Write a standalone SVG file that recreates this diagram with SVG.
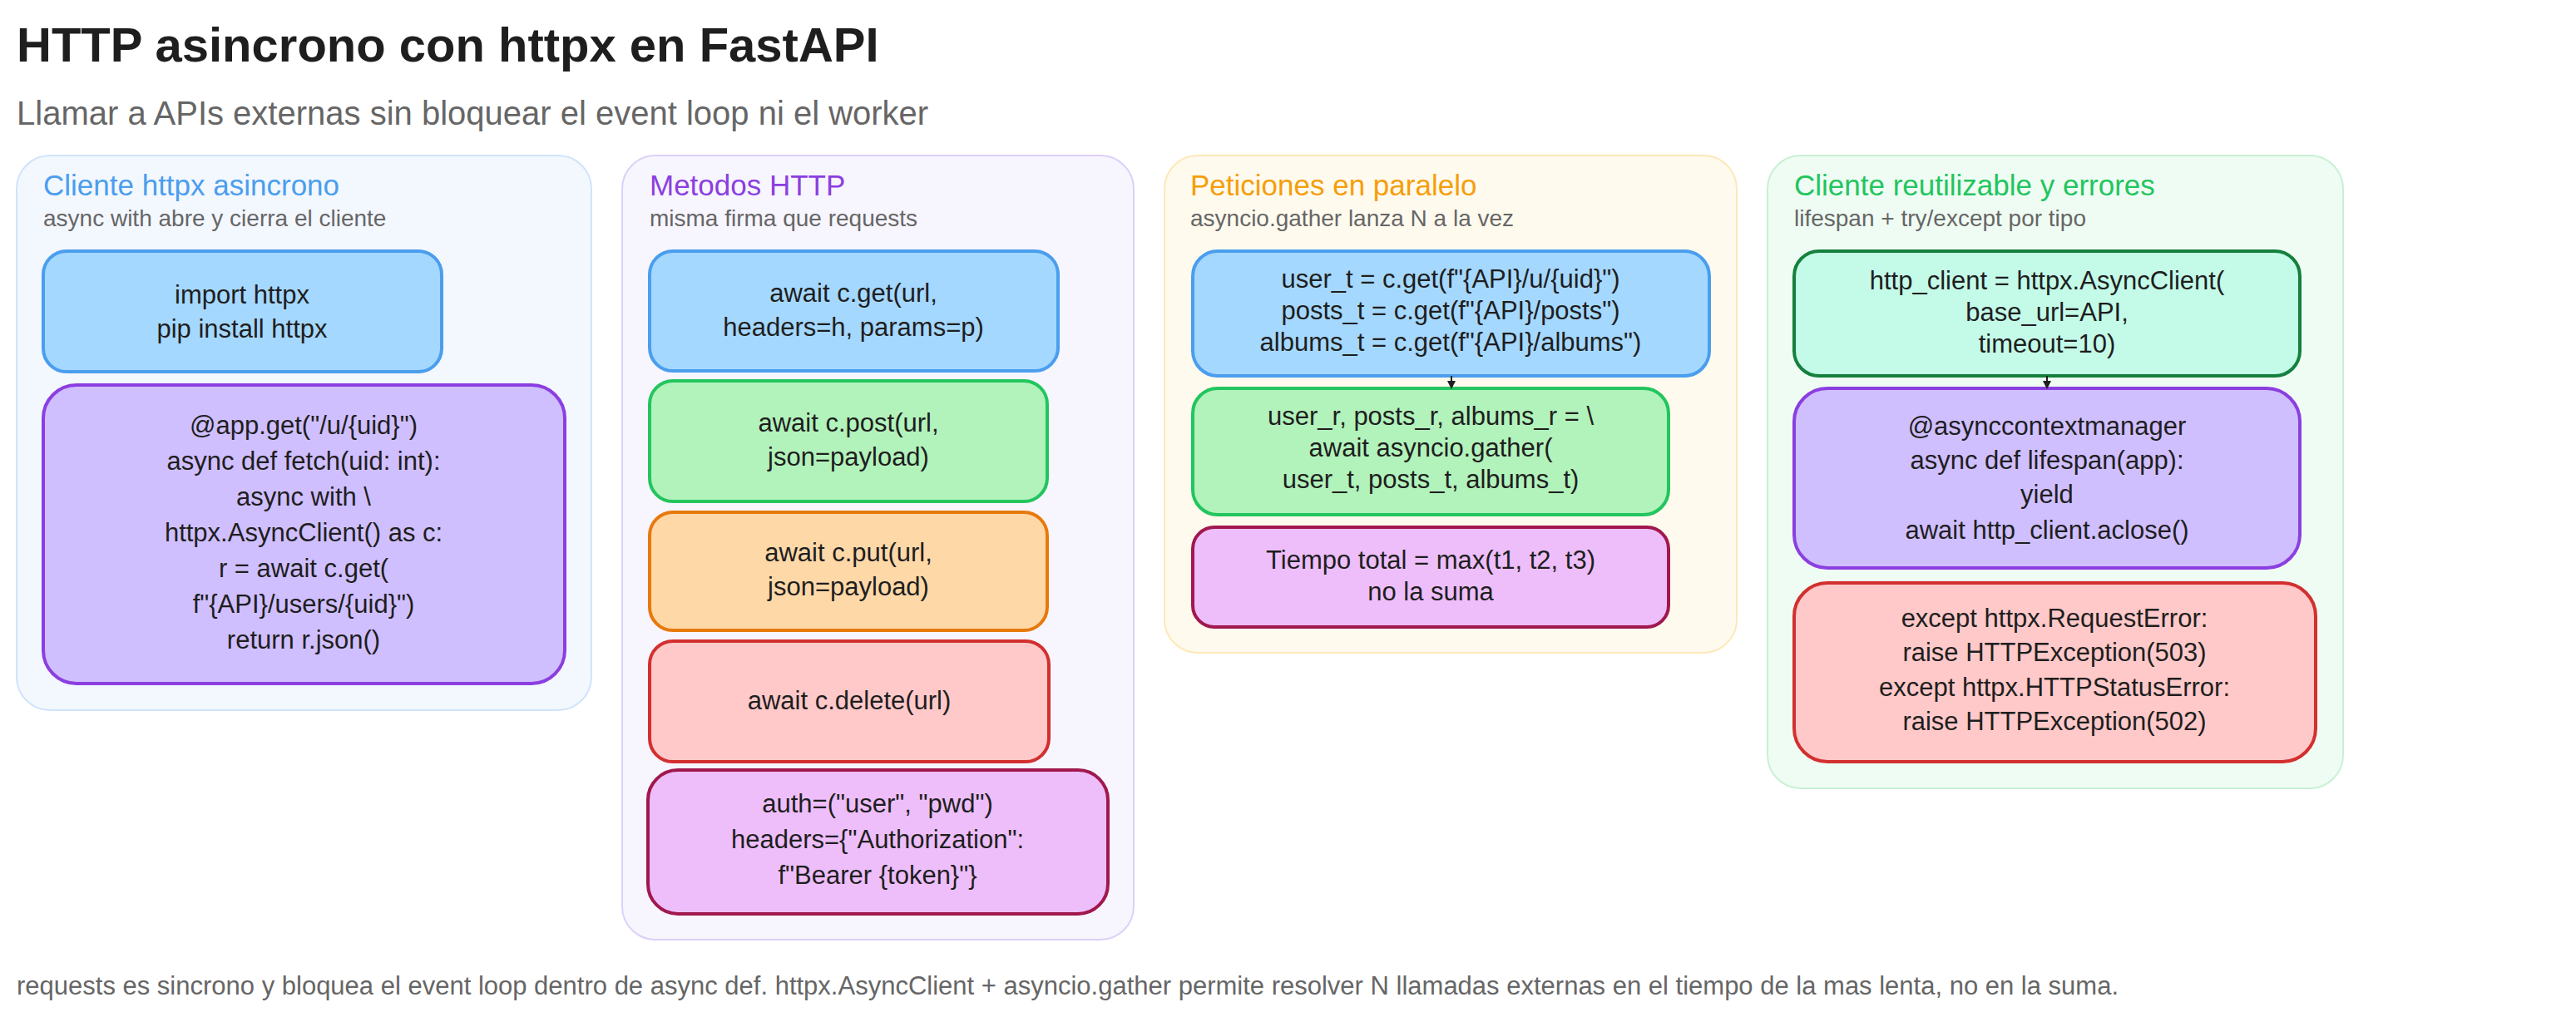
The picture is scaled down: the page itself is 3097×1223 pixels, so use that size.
<svg xmlns="http://www.w3.org/2000/svg" width="3097" height="1223" viewBox="0 0 3097 1223">
<style>
text{font-family:"Liberation Sans",Arial,sans-serif;fill:#1e1e1e}
.t{font-size:58px;font-weight:bold}
.st{font-size:40px;fill:#666}
.h{font-size:35px}
.sh{font-size:28px;fill:#666}
.c{font-size:31px;text-anchor:middle}
.f{font-size:31px;fill:#666}
.cont{stroke-width:2}
.box{stroke-width:4}
.conn{stroke:#1e1e1e;stroke-width:2;fill:none}
</style>
<defs><marker id="ah" markerWidth="10" markerHeight="10" refX="8" refY="5" orient="auto" markerUnits="userSpaceOnUse"><path d="M0,0 L10,5 L0,10 Z" fill="#1e1e1e"/></marker></defs>
<rect width="3097" height="1223" fill="#fff"/>
<text class="t" x="20" y="74">HTTP asincrono con httpx en FastAPI</text>
<text class="st" x="20" y="150">Llamar a APIs externas sin bloquear el event loop ni el worker</text>

<g id="g1">
<rect class="cont" x="20" y="187" width="691" height="667" rx="40" fill="#f3f7fe" stroke="#cfe4fb"/>
<text class="h" x="52" y="235" style="fill:#4a9eed">Cliente httpx asincrono</text>
<text class="sh" x="52" y="272">async with abre y cierra el cliente</text>
</g>
<g id="n_import"><rect class="box" x="52" y="302" width="479" height="145" rx="28" fill="#a5d8ff" stroke="#4a9eed"/>
<text class="c" x="291" y="365">import httpx</text><text class="c" x="291" y="406">pip install httpx</text></g>
<g id="n_fetch"><rect class="box" x="52" y="463" width="627" height="359" rx="40" fill="#d0bfff" stroke="#8b3fe0"/>
<text class="c" x="365" y="522">@app.get("/u/{uid}")</text>
<text class="c" x="365" y="565">async def fetch(uid: int):</text>
<text class="c" x="365" y="608">async with \</text>
<text class="c" x="365" y="651">httpx.AsyncClient() as c:</text>
<text class="c" x="365" y="694">r = await c.get(</text>
<text class="c" x="365" y="737">f"{API}/users/{uid}")</text>
<text class="c" x="365" y="780">return r.json()</text></g>

<g id="g2">
<rect class="cont" x="748" y="187" width="615" height="943" rx="40" fill="#f7f5fe" stroke="#ddd0f9"/>
<text class="h" x="781" y="235" style="fill:#8b3fe0">Metodos HTTP</text>
<text class="sh" x="781" y="272">misma firma que requests</text>
</g>
<g id="n_get"><rect class="box" x="781" y="302" width="491" height="144" rx="28" fill="#a5d8ff" stroke="#4a9eed"/>
<text class="c" x="1026" y="363">await c.get(url,</text><text class="c" x="1026" y="404">headers=h, params=p)</text></g>
<g id="n_post"><rect class="box" x="781" y="458" width="478" height="145" rx="28" fill="#b2f2bb" stroke="#22c55e"/>
<text class="c" x="1020" y="519">await c.post(url,</text><text class="c" x="1020" y="560">json=payload)</text></g>
<g id="n_put"><rect class="box" x="781" y="616" width="478" height="142" rx="28" fill="#ffd8a8" stroke="#e8790c"/>
<text class="c" x="1020" y="675">await c.put(url,</text><text class="c" x="1020" y="716">json=payload)</text></g>
<g id="n_delete"><rect class="box" x="781" y="771" width="480" height="145" rx="28" fill="#ffc9c9" stroke="#d32f2f"/>
<text class="c" x="1021" y="853">await c.delete(url)</text></g>
<g id="n_auth"><rect class="box" x="779" y="926" width="553" height="173" rx="36" fill="#eebefa" stroke="#a0184e"/>
<text class="c" x="1055" y="977">auth=("user", "pwd")</text>
<text class="c" x="1055" y="1020">headers={"Authorization":</text>
<text class="c" x="1055" y="1063">f"Bearer {token}"}</text></g>

<g id="g3">
<rect class="cont" x="1400" y="187" width="688" height="598" rx="40" fill="#fffaee" stroke="#fde8b8"/>
<text class="h" x="1431" y="235" style="fill:#f59e0b">Peticiones en paralelo</text>
<text class="sh" x="1431" y="272">asyncio.gather lanza N a la vez</text>
</g>
<g id="n_tasks"><rect class="box" x="1434" y="302" width="621" height="150" rx="30" fill="#a5d8ff" stroke="#4a9eed"/>
<text class="c" x="1744" y="346">user_t = c.get(f"{API}/u/{uid}")</text>
<text class="c" x="1744" y="384">posts_t = c.get(f"{API}/posts")</text>
<text class="c" x="1744" y="422">albums_t = c.get(f"{API}/albums")</text></g>
<g id="n_gather"><rect class="box" x="1434" y="467" width="572" height="152" rx="30" fill="#b2f2bb" stroke="#22c55e"/>
<text class="c" x="1720" y="511">user_r, posts_r, albums_r = \</text>
<text class="c" x="1720" y="549">await asyncio.gather(</text>
<text class="c" x="1720" y="587">user_t, posts_t, albums_t)</text></g>
<g id="n_time"><rect class="box" x="1434" y="634" width="572" height="120" rx="26" fill="#eebefa" stroke="#a0184e"/>
<text class="c" x="1720" y="684">Tiempo total = max(t1, t2, t3)</text>
<text class="c" x="1720" y="722">no la suma</text></g>

<g id="g4">
<rect class="cont" x="2125" y="187" width="692" height="761" rx="40" fill="#effcf3" stroke="#c8f0d5"/>
<text class="h" x="2157" y="235" style="fill:#22c55e">Cliente reutilizable y errores</text>
<text class="sh" x="2157" y="272">lifespan + try/except por tipo</text>
</g>
<g id="n_client"><rect class="box" x="2157" y="302" width="608" height="150" rx="30" fill="#c3fae8" stroke="#15803d"/>
<text class="c" x="2461" y="348">http_client = httpx.AsyncClient(</text>
<text class="c" x="2461" y="386">base_url=API,</text>
<text class="c" x="2461" y="424">timeout=10)</text></g>
<g id="n_lifespan"><rect class="box" x="2157" y="467" width="608" height="216" rx="40" fill="#d0bfff" stroke="#8b3fe0"/>
<text class="c" x="2461" y="523">@asynccontextmanager</text>
<text class="c" x="2461" y="564">async def lifespan(app):</text>
<text class="c" x="2461" y="605">yield</text>
<text class="c" x="2461" y="648">await http_client.aclose()</text></g>
<g id="n_except"><rect class="box" x="2157" y="701" width="627" height="215" rx="40" fill="#ffc9c9" stroke="#d32f2f"/>
<text class="c" x="2470" y="754">except httpx.RequestError:</text>
<text class="c" x="2470" y="795">raise HTTPException(503)</text>
<text class="c" x="2470" y="837">except httpx.HTTPStatusError:</text>
<text class="c" x="2470" y="878">raise HTTPException(502)</text></g>

<g id="connectors">
<line class="conn" x1="1745" y1="452" x2="1745" y2="466" marker-end="url(#ah)"/>
<line class="conn" x1="2461" y1="452" x2="2461" y2="466" marker-end="url(#ah)"/>
</g>
<text class="f" x="20" y="1196">requests es sincrono y bloquea el event loop dentro de async def. httpx.AsyncClient + asyncio.gather permite resolver N llamadas externas en el tiempo de la mas lenta, no en la suma.</text>
</svg>
